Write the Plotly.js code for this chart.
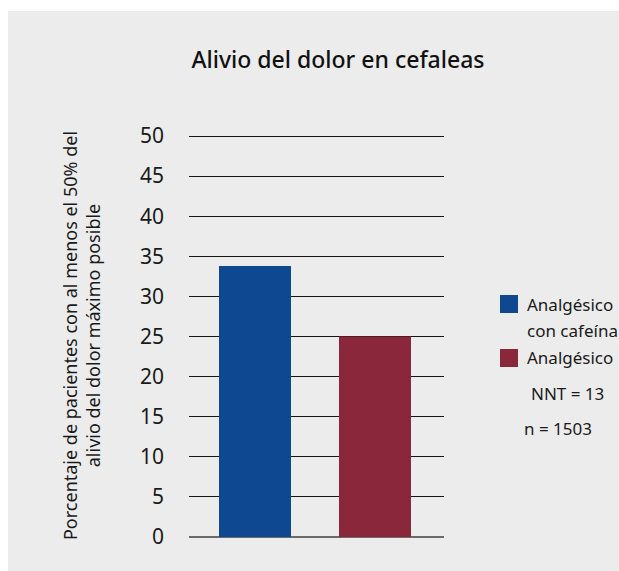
<!DOCTYPE html>
<html>
<head>
<meta charset="utf-8">
<script src="https://cdn.plot.ly/plotly-3.0.1.min.js"></script>
<style>
  html, body { margin: 0; padding: 0; background: #ffffff; }
  #chart { position: absolute; left: 8px; top: 11px; width: 611px; height: 560px; }
</style>
</head>
<body>
<div id="chart"></div>
<script>
// ---- data ----
const categories = ["Analgésico con cafeína", "Analgésico"];
const legendLabels = ["Analgésico<br>con cafeína", "Analgésico"];
const values = [33.8, 25];
const barColors = ["#0e4890", "#8a273a"];
const yTickVals = [0, 5, 10, 15, 20, 25, 30, 35, 40, 45, 50];
const notes = ["NNT = 13", "n = 1503"];
const chartTitle = "Alivio del dolor en cefaleas";
const yTitle = "Porcentaje de pacientes con al menos el 50% del<br>alivio del dolor máximo posible";

// ---- layout geometry (div pixels) ----
const W = 611, H = 560;
const YMAX = 50.25;
const L = 181, R = 436, B = 526, T = 123;
const px = X => (X - L) / (R - L);
const py = Y => (B - Y) / (B - T);
const FONT = "Noto Sans, Open Sans, sans-serif";
const TXT = "#1a1a1a";

const traces = [{
  type: "bar",
  x: categories,
  y: values,
  width: 0.6,
  marker: { color: barColors, line: { width: 0 } },
  showlegend: false,
  hoverinfo: "x+y"
}];

const shapes = [];
const annotations = [];
const sq = [[284, 302], [338, 356]];
barColors.forEach((c, i) => {
  shapes.push({
    type: "rect", xref: "paper", yref: "paper",
    x0: px(492), x1: px(510), y0: py(sq[i][1]), y1: py(sq[i][0]),
    fillcolor: c, line: { width: 0 }
  });
});
// legend text lines
const lineY = [[293, 319], [346]];
legendLabels.forEach((lab, i) => {
  lab.split("<br>").forEach((ln, j) => {
    annotations.push({
      xref: "paper", yref: "paper", x: px(517), y: py(lineY[i][j]),
      xanchor: "left", yanchor: "middle",
      text: ln, showarrow: false, align: "left",
      font: { family: FONT, size: 17, color: TXT }
    });
  });
});
const notePos = [[559, 382], [550, 417]];
notes.forEach((n, i) => {
  annotations.push({
    xref: "paper", yref: "paper", x: px(notePos[i][0]), y: py(notePos[i][1]),
    xanchor: "center", yanchor: "middle",
    text: n, showarrow: false, font: { family: FONT, size: 17, color: TXT }
  });
});

const layout = {
  width: W, height: H,
  paper_bgcolor: "#ececec",
  plot_bgcolor: "#ececec",
  margin: { l: L, r: W - R, t: T, b: H - B, pad: 0 },
  font: { family: FONT, color: TXT },
  title: {
    text: chartTitle,
    x: 330 / W, xref: "container", xanchor: "center",
    y: 1 - 49 / H, yref: "container", yanchor: "middle",
    font: { family: FONT, size: 23, color: "#111111", weight: 500 }
  },
  xaxis: {
    type: "category",
    range: [-0.55, 1.575],
    showticklabels: false,
    showgrid: false,
    zeroline: false,
    showline: false,
    ticks: "",
    fixedrange: true
  },
  yaxis: {
    range: [0, YMAX],
    tickvals: yTickVals,
    ticktext: yTickVals.map(String),
    showgrid: true,
    gridcolor: "#151515",
    gridwidth: 1.4,
    zeroline: true,
    zerolinecolor: "#6a6a6a",
    zerolinewidth: 2,
    showline: false,
    ticks: "",
    ticklabelstandoff: 24,
    tickfont: { family: FONT, size: 21, color: TXT },
    title: {
      text: yTitle,
      standoff: 34,
      font: { family: FONT, size: 18, color: TXT }
    },
    automargin: false,
    fixedrange: true
  },
  shapes: shapes,
  annotations: annotations,
  bargap: 0.4,
  hovermode: "closest"
};

Plotly.newPlot("chart", traces, layout, { displayModeBar: false });
</script>
</body>
</html>
